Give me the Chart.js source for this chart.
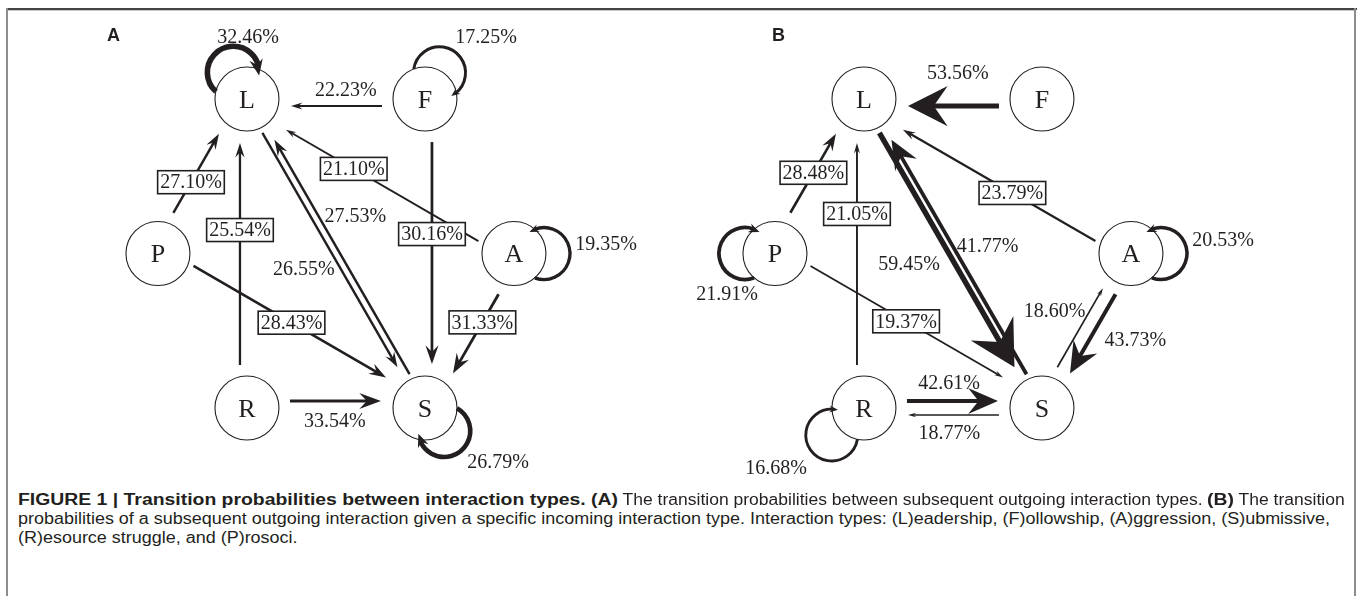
<!DOCTYPE html>
<html>
<head>
<meta charset="utf-8">
<script src="https://cdn.jsdelivr.net/npm/chart.js@4.4.1/dist/chart.umd.min.js"></script>
<style>
html, body { margin: 0; padding: 0; background: #fff; }
body { width: 1357px; height: 596px; position: relative; overflow: hidden; }
.rule { position: absolute; }
canvas { position: absolute; top: 0; }
.panel { position: absolute; font: bold 18px "Liberation Sans", Arial, sans-serif; color: #231f20; line-height: 18px; }
.cap { position: absolute; left: 18px; white-space: nowrap; font: 16px "Liberation Sans", Arial, sans-serif;
       color: #231f20; line-height: 19px; }
.cap span { display: inline-block; white-space: pre; }
.cap .in { transform-origin: 0 0; }
.cap .b { font-weight: bold; }
</style>
</head>
<body>
<div class="rule" style="left:6px;top:8px;width:1351px;height:2px;background:#444"></div>
<div class="rule" style="left:8px;top:10px;width:1346px;height:1px;background:#c8c8c8"></div>
<div class="rule" style="left:6px;top:8px;width:2px;height:588px;background:#8c8c8c"></div>
<div class="rule" style="left:1354px;top:8px;width:2px;height:588px;background:#8c8c8c"></div>

<canvas id="chartA" width="660" height="480" style="left:0px"></canvas>
<canvas id="chartB" width="660" height="480" style="left:617px"></canvas>
<div class="panel" style="left:107px;top:26px">A</div>
<div class="panel" style="left:772px;top:26px">B</div>

<script>
// nodes on a grid
const nodeNames = ["L", "F", "P", "A", "R", "S"];
const nodeX = [1, 3, 0, 4, 1, 3];
const nodeY = [2, 2, 1, 1, 0, 0];

// panel A: transitions between subsequent outgoing interactions (%)
const fromA = ["F", "A", "P", "R", "L", "S", "F", "A", "P", "R"];
const toA   = ["L", "L", "L", "L", "S", "L", "S", "S", "S", "S"];
const probA = [22.23, 21.10, 27.10, 25.54, 26.55, 27.53, 30.16, 31.33, 28.43, 33.54];
const loopNodesA = ["L", "F", "A", "S"];
const loopProbA  = [32.46, 17.25, 19.35, 26.79];

// panel B: outgoing interaction given incoming type (%)
const fromB = ["F", "P", "R", "A", "L", "S", "P", "R", "S", "A", "S"];
const toB   = ["L", "L", "L", "L", "S", "L", "S", "S", "R", "S", "A"];
const probB = [53.56, 28.48, 21.05, 23.79, 59.45, 41.77, 19.37, 42.61, 18.77, 43.73, 18.60];
const loopNodesB = ["P", "A", "R"];
const loopProbB  = [21.91, 20.53, 16.68];

// label layout: [t along edge, dx, dy]; only t => boxed label on the edge
const labelPosA = [[.444, 0, -9], [.587], [.439], [.576], [.55, -41, 0], [.621, 41, 0], [.437], [.423], [.487], [.494, 0, 13]];
const labelPosB = [[.472, 0, -26], [.5], [.628], [.431], [.534, -50, 0], [.524, 39, 0], [.478], [.478, 0, -25], [.52, 0, 25], [.401, 40, 24], [.5, -32, -20]];
// loop layout: [angle deg, direction (1 = clockwise), distance px, label dx, label dy]
const loopStyleA = [[-117, 1, 30, 1, -62], [-61, 1, 30, 61, -62], [0, -1, 30, 92, -10], [50, 1, 30, 73, 54]];
const loopStyleB = [[180, 1, 30, -48, 40], [0, -1, 30, 92, -14], [140, 1, 42, -88, 60]];

const INK = "#231f20";
const NODE_R = 32;

function head(ctx, tx, ty, ux, uy, len, hw) {
  const bx = tx - ux * len, by = ty - uy * len;
  const nx = -uy, ny = ux;
  ctx.beginPath();
  ctx.moveTo(tx, ty);
  ctx.lineTo(bx + nx * hw, by + ny * hw);
  ctx.lineTo(tx - ux * len * 0.65, ty - uy * len * 0.65);
  ctx.lineTo(bx - nx * hw, by - ny * hw);
  ctx.closePath();
  ctx.fill();
}

const graphPlugin = {
  id: "graph",
  afterDatasetsDraw(chart) {
    const o = chart.options.plugins.graph;
    const ctx = chart.ctx, xs = chart.scales.x, ys = chart.scales.y;
    const pos = n => {
      const i = nodeNames.indexOf(n);
      return { x: xs.getPixelForValue(nodeX[i]), y: ys.getPixelForValue(nodeY[i]) };
    };
    ctx.save();
    ctx.strokeStyle = INK;
    ctx.fillStyle = INK;
    ctx.lineCap = "butt";
    const labels = [];

    // edges
    o.from.forEach((f, k) => {
      const t = o.to[k], p = o.prob[k];
      const c1 = pos(f), c2 = pos(t);
      const dx = c2.x - c1.x, dy = c2.y - c1.y, len = Math.hypot(dx, dy);
      const ux = dx / len, uy = dy / len;
      let nx = uy, ny = -ux, off = 7;
      const pair = [f, t].sort().join("");
      if (pair === "LS") { nx = -nx; ny = -ny; off = 3.5; }
      const diag = Math.abs(ux) > 0.1 && Math.abs(uy) > 0.1 && len > 250;
      const g1 = diag ? 37 : 43, g2 = diag ? 49 : 44;
      const sx = c1.x + ux * g1 + nx * off, sy = c1.y + uy * g1 + ny * off;
      const tx = c2.x - ux * g2 + nx * off, ty = c2.y - uy * g2 + ny * off;
      const lw = p / 11;
      const hl = Math.max(7, 0.9 * p - 8.5);
      const hw = hl * (0.15 + p / 150);
      ctx.lineWidth = lw;
      ctx.beginPath();
      ctx.moveTo(sx, sy);
      ctx.lineTo(tx - ux * hl * 0.6, ty - uy * hl * 0.6);
      ctx.stroke();
      head(ctx, tx, ty, ux, uy, hl, hw);

      const lp = o.labels[k];
      const bx = c1.x + dx * lp[0], by = c1.y + dy * lp[0];
      if (lp.length === 1) labels.push({ x: bx + nx * off, y: by + ny * off, s: p.toFixed(2) + "%", box: true });
      else labels.push({ x: bx + lp[1], y: by + lp[2], s: p.toFixed(2) + "%", box: false });
    });

    // self loops
    const rl = 26;
    o.loops.forEach((n, k) => {
      const p = o.loopProb[k], st = o.loopStyle[k];
      const c = pos(n);
      const th = st[0] * Math.PI / 180, dir = st[1], d = st[2];
      const psi = Math.acos((d * d + rl * rl - NODE_R * NODE_R) / (2 * d * rl));
      const cx = c.x + d * Math.cos(th), cy = c.y + d * Math.sin(th);
      const phi0 = th + Math.PI;
      const a0 = phi0 + dir * psi;
      const aTip = phi0 + dir * (2 * Math.PI - psi + 0.23);
      const hl = p * 0.5, hw = hl * 0.42;
      const aBack = aTip - dir * (hl / rl);
      const aEnd = aTip - dir * (0.6 * hl / rl);
      ctx.lineWidth = p / 5.8;
      ctx.beginPath();
      ctx.arc(cx, cy, rl, a0, aEnd, dir < 0);
      ctx.stroke();
      const tx = cx + rl * Math.cos(aTip), ty = cy + rl * Math.sin(aTip);
      const bx = cx + rl * Math.cos(aBack), by = cy + rl * Math.sin(aBack);
      const L = Math.hypot(tx - bx, ty - by);
      head(ctx, tx, ty, (tx - bx) / L, (ty - by) / L, hl, hw);
      labels.push({ x: c.x + st[3], y: c.y + st[4], s: p.toFixed(2) + "%", box: false });
    });

    // labels
    ctx.font = '20px "Liberation Serif", "Times New Roman", serif';
    ctx.textAlign = "center";
    ctx.textBaseline = "middle";
    labels.forEach(l => {
      if (l.box) {
        const w = ctx.measureText(l.s).width + 5, h = 23;
        ctx.fillStyle = "#fff";
        ctx.fillRect(l.x - w / 2, l.y - h / 2, w, h);
        ctx.lineWidth = 1.6;
        ctx.strokeStyle = INK;
        ctx.strokeRect(l.x - w / 2, l.y - h / 2, w, h);
      }
      ctx.fillStyle = INK;
      ctx.fillText(l.s, l.x, l.y + 1);
    });

    // node letters
    ctx.font = '26px "Liberation Serif", "Times New Roman", serif';
    nodeNames.forEach(n => {
      const c = pos(n);
      ctx.fillText(n, c.x, c.y + 2);
    });
    ctx.restore();
  }
};

function makePanel(id, from, to, prob, labels, loops, loopProb, loopStyle) {
  return new Chart(document.getElementById(id), {
    type: "scatter",
    data: {
      datasets: [{
        data: nodeNames.map((n, i) => ({ x: nodeX[i], y: nodeY[i] })),
        pointRadius: NODE_R,
        pointHoverRadius: NODE_R,
        borderWidth: 1.1,
        borderColor: INK,
        backgroundColor: "rgba(0,0,0,0)",
        clip: false
      }]
    },
    options: {
      responsive: false,
      animation: false,
      events: [],
      layout: { padding: 0, autoPadding: false },
      scales: {
        x: { type: "linear", min: -1.775, max: 5.641, display: false },
        y: { type: "linear", min: -0.466, max: 2.641, display: false }
      },
      plugins: {
        legend: { display: false },
        tooltip: { enabled: false },
        graph: { from, to, prob, labels, loops, loopProb, loopStyle }
      }
    },
    plugins: [graphPlugin]
  });
}

makePanel("chartA", fromA, toA, probA, labelPosA, loopNodesA, loopProbA, loopStyleA);
makePanel("chartB", fromB, toB, probB, labelPosB, loopNodesB, loopProbB, loopStyleB);

// caption, condensed to the figure width
const capLines = [
  [["b", "FIGURE 1 | Transition probabilities between interaction types. (A)"], ["r", " The transition probabilities between subsequent outgoing interaction types. "], ["b", "(B)"], ["r", " The transition"]],
  [["r", "probabilities of a subsequent outgoing interaction given a specific incoming interaction type. Interaction types: (L)eadership, (F)ollowship, (A)ggression, (S)ubmissive,"]],
  [["r", "(R)esource struggle, and (P)rosoci."]]
];
const capTops = [490, 509, 528];
const spans = [];
capLines.forEach((segs, i) => {
  const line = document.createElement("div");
  line.className = "cap";
  line.style.top = capTops[i] + "px";
  segs.forEach(([kind, txt]) => {
    const outer = document.createElement("span");
    const inner = document.createElement("span");
    inner.className = "in" + (kind === "b" ? " b" : "");
    inner.textContent = txt;
    outer.appendChild(inner);
    line.appendChild(outer);
    spans.push({ outer, inner, kind, line: i });
  });
  document.body.appendChild(line);
});
const natural = spans.map(s => s.inner.getBoundingClientRect().width);
const sBold = 600 / natural[0];
const sReg = 1312 / natural[4];
// first line: regular parts fill what the bold parts leave of the width
const sReg1 = (1327 - (natural[0] + natural[2]) * sBold) / (natural[1] + natural[3]);
spans.forEach((s, i) => {
  const k = s.kind === "b" ? sBold : (s.line === 0 ? sReg1 : sReg);
  s.inner.style.transform = "scaleX(" + k + ")";
  s.outer.style.width = (natural[i] * k) + "px";
});
</script>
</body>
</html>
